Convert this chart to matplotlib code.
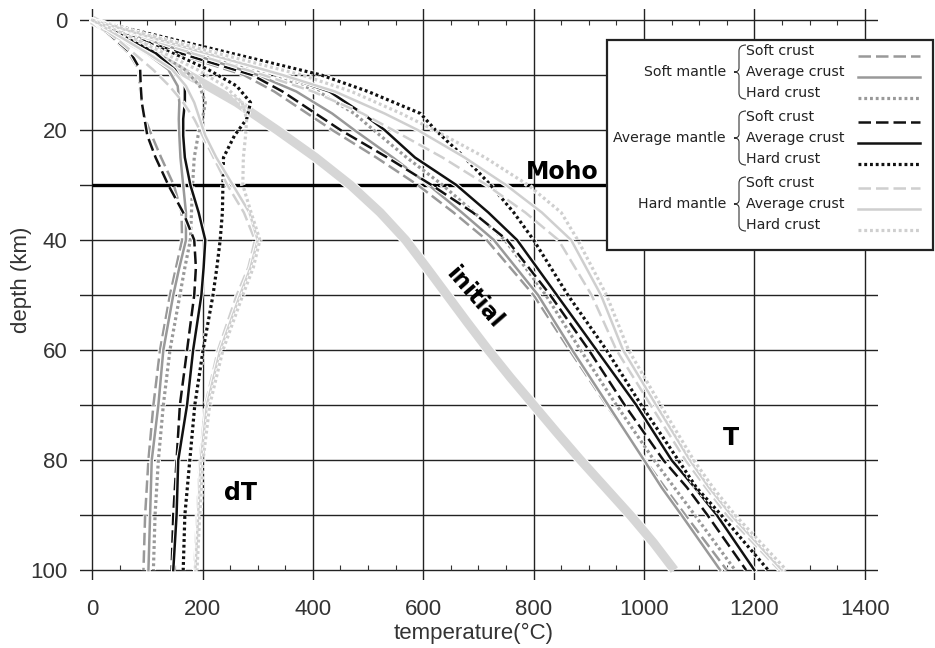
import matplotlib
matplotlib.use('Agg')
import matplotlib.pyplot as plt
import matplotlib.patheffects as pe
from matplotlib.path import Path
from matplotlib.patches import PathPatch, Rectangle
from matplotlib.lines import Line2D

# ---- data ----
mantle_names = ['Soft mantle', 'Average mantle', 'Hard mantle']
crust_names = ['Soft crust', 'Average crust', 'Hard crust']

# initial geotherm
depth_init = [0, 5, 10, 15, 20, 25, 30, 35, 40, 45, 50, 55, 60, 65, 70, 75, 80, 85, 90, 95, 100]
T_init = [0, 90, 175, 262, 335, 405, 468, 522, 568, 606, 643, 680, 718, 758, 800, 842, 885,
          930, 975, 1017, 1055]

# final temperature T (degC)
depth_T = [0, 3, 6, 10, 13, 17, 20, 25, 30, 35, 40, 50, 60, 70, 80, 85, 90, 100]
T_soft_soft = [0, 75, 150, 275, 330, 390, 435, 515, 590, 655, 715, 800, 865, 932, 1002, 1038, 1075, 1150]
T_soft_avg = [0, 85, 175, 300, 370, 435, 475, 545, 610, 670, 728, 808, 870, 935, 1000, 1032, 1068, 1138]
T_soft_hard = [0, 95, 195, 330, 410, 475, 510, 570, 635, 692, 748, 822, 885, 950, 1018, 1055, 1092, 1165]
T_avg_soft = [0, 80, 158, 290, 345, 405, 450, 535, 615, 690, 752, 830, 900, 965, 1035, 1078, 1115, 1185]
T_avg_avg = [0, 105, 209, 342, 430, 490, 530, 585, 660, 718, 770, 842, 914, 986, 1050, 1092, 1132, 1200]
T_avg_hard = [0, 125, 250, 415, 500, 595, 622, 675, 722, 764, 800, 862, 932, 995, 1062, 1095, 1140, 1225]
T_hard_soft = [0, 90, 180, 310, 400, 490, 545, 635, 715, 785, 845, 905, 950, 1012, 1075, 1112, 1150, 1245]
T_hard_avg = [0, 100, 205, 345, 440, 530, 590, 675, 750, 815, 868, 922, 962, 1022, 1083, 1118, 1158, 1250]
T_hard_hard = [0, 110, 225, 380, 470, 560, 620, 712, 790, 850, 880, 932, 972, 1030, 1090, 1125, 1165, 1258]

# temperature change dT (degC)
depth_dT = [0, 3, 6, 9, 12, 15, 18, 21, 25, 30, 35, 40, 45, 50, 60, 70, 80, 90, 100]
dT_soft_soft = [0, 34, 66, 85, 86, 90, 96, 108, 125, 148, 162, 163, 152, 141, 123, 111, 102, 96, 93]
dT_soft_avg = [0, 50, 98, 138, 155, 158, 157, 158, 160, 165, 170, 170, 158, 147, 129, 120, 108, 105, 102]
dT_soft_hard = [0, 62, 120, 168, 195, 205, 200, 192, 185, 182, 180, 178, 168, 159, 141, 129, 120, 114, 111]
dT_avg_soft = [0, 36, 70, 87, 88, 90, 95, 100, 115, 138, 165, 185, 188, 185, 172, 159, 153, 147, 144]
dT_avg_avg = [0, 58, 115, 150, 168, 168, 165, 165, 168, 178, 193, 205, 202, 198, 183, 172, 156, 153, 147]
dT_avg_hard = [0, 72, 145, 210, 262, 287, 280, 258, 238, 237, 236, 232, 226, 219, 201, 186, 177, 168, 165]
dT_hard_soft = [0, 40, 75, 110, 140, 165, 185, 200, 220, 245, 275, 295, 283, 262, 228, 205, 195, 190, 185]
dT_hard_avg = [0, 50, 100, 145, 170, 185, 195, 205, 225, 255, 285, 300, 287, 268, 232, 208, 197, 192, 187]
dT_hard_hard = [0, 68, 130, 190, 240, 272, 280, 278, 274, 273, 288, 304, 292, 273, 237, 213, 201, 195, 190]

moho_depth = 30

T_series = [[T_soft_soft, T_soft_avg, T_soft_hard],
            [T_avg_soft, T_avg_avg, T_avg_hard],
            [T_hard_soft, T_hard_avg, T_hard_hard]]
dT_series = [[dT_soft_soft, dT_soft_avg, dT_soft_hard],
             [dT_avg_soft, dT_avg_avg, dT_avg_hard],
             [dT_hard_soft, dT_hard_avg, dT_hard_hard]]

# ---- styles ----
mantle_colors = ['#999999', '#111111', '#cfcfcf']
crust_styles = [(0, (5, 2)), '-', (0, (0.9, 0.9))]
crust_widths = [1.8, 1.8, 2.3]

lab_font = ['Liberation Sans Narrow', 'Liberation Sans', 'DejaVu Sans']

W, H = 935, 648
fig = plt.figure(figsize=(W / 100, H / 100), dpi=100)
ax = fig.add_axes([80 / W, 1 - 580 / H, 798 / W, 571 / H])
ax.set_xlim(-22, 1424)
ax.set_ylim(101.8, -2)
for s in ax.spines.values():
    s.set_visible(False)

# grid drawn as plain lines, like the original
for v in range(0, 1401, 200):
    ax.axvline(v, color='#222222', lw=1.0, zorder=1)
for h in range(0, 101, 10):
    ax.axhline(h, color='#222222', lw=1.0, zorder=1)
minor = [x for x in range(50, 1400, 50) if x % 200]
ax.vlines(minor, 0, 0.9, color='#333333', lw=0.8, zorder=1)
ax.vlines(minor, 99.1, 100, color='#333333', lw=0.8, zorder=1)

ax.set_xticks(range(0, 1401, 200))
ax.set_yticks(range(0, 101, 20))
ax.tick_params(length=0, labelcolor='#333333', labelsize=16)
ax.tick_params(axis='x', pad=14)
ax.tick_params(axis='y', pad=9)
for lab in ax.get_xticklabels() + ax.get_yticklabels():
    lab.set_family(lab_font)

fig.text(474 / W, 1 - 633 / H, 'temperature(°C)', ha='center', va='center',
         fontsize=16, color='#333333', family=lab_font)
fig.text(22 / W, 1 - 280 / H, 'depth (km)', ha='center', va='center', rotation=90,
         fontsize=16, color='#333333', family=lab_font)

# moho
ax.hlines(moho_depth, 0, 1424, color='black', lw=2.4, zorder=2)

def halo(lw):
    return [pe.Stroke(linewidth=lw + 1.5, foreground='white'), pe.Normal()]

ax.plot(T_init, depth_init, color='#d6d6d6', lw=6.5, solid_capstyle='butt',
        zorder=3, path_effects=halo(6.5))

for i in range(3):
    for j in range(3):
        for xs, ds in ((T_series[i][j], depth_T), (dT_series[i][j], depth_dT)):
            ax.plot(xs, ds, color=mantle_colors[i], ls=crust_styles[j],
                    lw=crust_widths[j], zorder=4 + i * 0.1,
                    path_effects=halo(crust_widths[j]))

bold = dict(fontweight='bold', family='DejaVu Sans', color='black', zorder=8)
ax.text(851, 27.6, 'Moho', ha='center', va='center', fontsize=17, **bold)
ax.text(1157, 76, 'T', ha='center', va='center', fontsize=17, **bold)
ax.text(268, 86, 'dT', ha='center', va='center', fontsize=17, **bold)
ax.text(693, 50.4, 'initial', ha='center', va='center', fontsize=16.5,
        rotation=-49, rotation_mode='anchor', **bold)

# ---- hand made legend with braces ----
def fx(px):
    return px / W

def fy(py):
    return 1 - py / H

box = Rectangle((fx(607), fy(250)), fx(933) - fx(607), fy(40) - fy(250),
                transform=fig.transFigure, facecolor='white', edgecolor='#222222',
                lw=1.6, zorder=10)
fig.add_artist(box)

def brace(x, top, mid, bot):
    verts = [(x + 7, top), (x, top), (x, top + 6),
             (x, mid - 4), (x, mid), (x - 5, mid),
             (x, mid), (x, mid + 4),
             (x, bot - 6), (x, bot), (x + 7, bot)]
    codes = [Path.MOVETO, Path.CURVE3, Path.CURVE3,
             Path.LINETO, Path.CURVE3, Path.CURVE3,
             Path.CURVE3, Path.CURVE3,
             Path.LINETO, Path.CURVE3, Path.CURVE3]
    p = Path([(fx(a), fy(b)) for a, b in verts], codes)
    fig.add_artist(PathPatch(p, transform=fig.transFigure, fill=False,
                             edgecolor='#333333', lw=0.8, zorder=11))

for i, mname in enumerate(mantle_names):
    yc = 72 + i * 66
    fig.text(fx(726), fy(yc), mname, ha='right', va='center', fontsize=10.2,
             color='#222222', zorder=11)
    brace(739, yc - 27, yc, yc + 27)
    for j, cname in enumerate(crust_names):
        yi = yc + (j - 1) * 21
        fig.text(fx(746), fy(yi), cname, ha='left', va='center', fontsize=10.2,
                 color='#222222', zorder=11)
        fig.add_artist(Line2D([fx(858), fx(920)], [fy(yi + 5), fy(yi + 5)],
                              transform=fig.transFigure, color=mantle_colors[i],
                              ls=crust_styles[j], lw=crust_widths[j], zorder=11))

fig.savefig('out.png', dpi=100)
